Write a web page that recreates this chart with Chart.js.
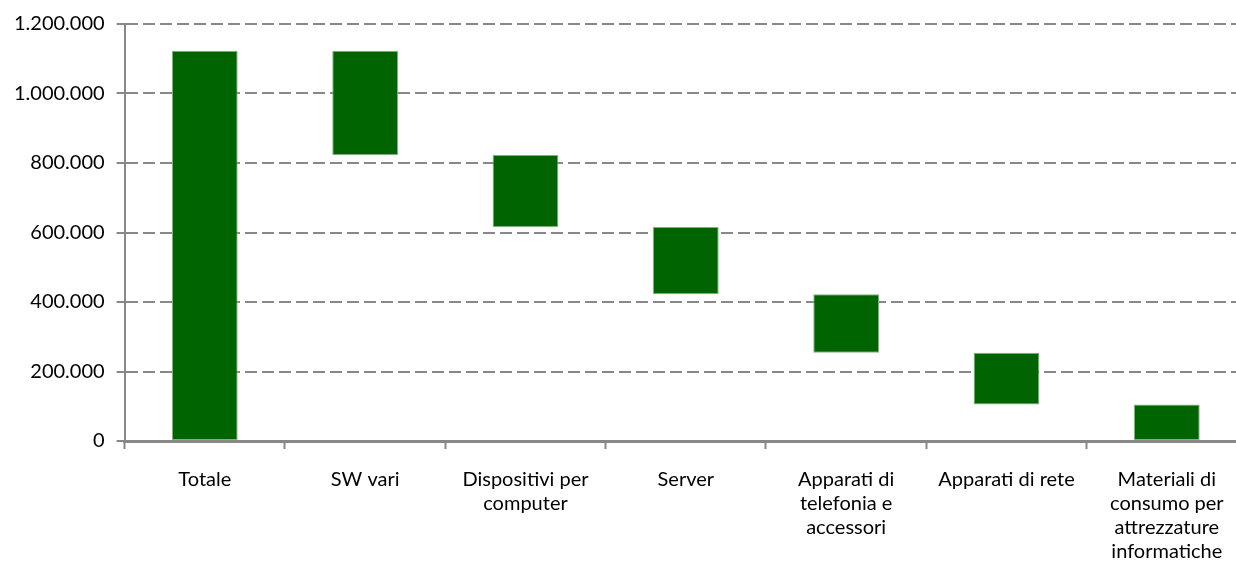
<!DOCTYPE html>
<html>
<head>
<meta charset="utf-8">
<script src="https://cdn.jsdelivr.net/npm/chart.js@4/dist/chart.umd.min.js"></script>
<style>
  html, body { margin: 0; padding: 0; background: #fff; overflow: hidden; }
  #wrap { width: 1250px; height: 570px; }
</style>
</head>
<body>
<div id="wrap"><canvas id="waterfall"></canvas></div>
<script>
// categorie e valori (euro)
const categories = [
  "Totale",
  "SW vari",
  ["Dispositivi per", "computer"],
  "Server",
  ["Apparati di", "telefonia e", "accessori"],
  "Apparati di rete",
  ["Materiali di", "consumo per", "attrezzature", "informatiche"],
];
const totale = 1123000;
const voci = [300000, 207000, 194000, 168000, 149000, 105000];
const yTicks = [0, 200000, 400000, 600000, 800000, 1000000, 1200000];

// barre flottanti: totale da zero, poi ogni voce scende dal livello precedente
const bars = [[0, totale]];
let livello = totale;
voci.forEach((v) => {
  bars.push([livello - v, livello]);
  livello -= v;
});

const fmt = (n) => String(n).replace(/\B(?=(\d{3})+(?!\d))/g, ".");

Chart.defaults.font.family = "Lato, 'Open Sans', sans-serif";
Chart.defaults.font.size = 20;
Chart.defaults.color = "#000";

new Chart(document.querySelector("#waterfall"), {
  type: "bar",
  data: {
    labels: categories,
    datasets: [
      {
        data: bars,
        backgroundColor: "#006400",
        borderColor: "#7fb27f",
        borderWidth: 1,
        borderSkipped: false,
        barPercentage: 0.41,
        categoryPercentage: 1,
      },
    ],
  },
  options: {
    responsive: true,
    maintainAspectRatio: false,
    animation: false,
    layout: { padding: { left: 2, right: 3, top: 12, bottom: -13 } },
    plugins: {
      legend: { display: false },
      tooltip: { enabled: false },
    },
    scales: {
      x: {
        grid: {
          offset: true,
          drawOnChartArea: false,
          tickLength: 8,
          tickColor: "#888",
          tickWidth: 2,
        },
        border: { color: "#888", width: 3 },
        ticks: { padding: 19, maxRotation: 0, autoSkip: false, font: { lineHeight: 1.2 } },
      },
      y: {
        min: 0,
        max: 1200000,
        afterBuildTicks: (axis) => {
          axis.ticks = yTicks.map((v) => ({ value: v }));
        },
        grid: {
          color: "#888",
          lineWidth: 2,
          tickLength: 8,
          tickColor: "#888",
          tickWidth: 2,
          tickBorderDash: [],
        },
        border: { color: "#888", width: 2, dash: [12, 5] },
        ticks: { padding: 12, callback: (v) => fmt(v) },
      },
    },
  },
});
</script>
</body>
</html>
